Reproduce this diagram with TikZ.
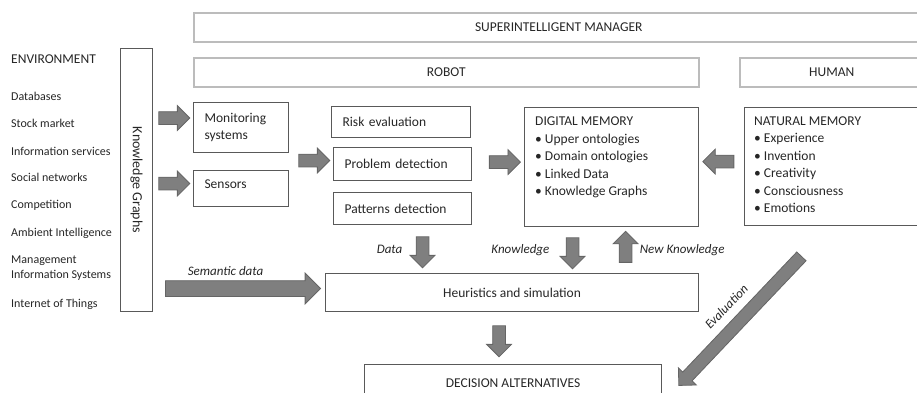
\documentclass[tikz,border=0pt]{standalone}
\usepackage{fontspec}
\setmainfont{Carlito}
\usetikzlibrary{shapes.arrows}
\usetikzlibrary{calc}
\definecolor{boxline}{HTML}{595959}
\definecolor{topline}{HTML}{BCBCBC}
\definecolor{arrfill}{HTML}{7F7F7F}
\definecolor{arrline}{HTML}{656565}
\definecolor{txt}{HTML}{262626}
\tikzset{   topbox/.style = {rectangle, draw = topline, line width=1.5pt, anchor=north west, inner sep=0pt, font=\fontsize{13.5}{17}\selectfont},
            box/.style = {rectangle, draw = boxline, line width=1.1pt, anchor=north west, inner sep=0pt, font=\fontsize{13.5}{17}\selectfont},
            envtext/.style = {anchor=west, inner sep=0pt, align=left, text height=8.5pt, text depth=2.5pt, font=\fontsize{12}{15}\selectfont},
            blockarr/.style = {single arrow, draw = arrline, fill = arrfill, line width=0.8pt, inner xsep=0pt, inner ysep=6pt, minimum width=0pt, single arrow head extend=6pt, minimum height=31pt, sloped, allow upside down},
            lbl/.style = {inner sep=0pt, font=\fontsize{13}{15}\selectfont\itshape}}

\begin{document}
\begin{tikzpicture}[x=1pt, y=-1pt, every node/.append style={text=txt}]
\path[use as bounding box, clip] (0,0) rectangle (917,392);

% top row
\node[topbox, minimum width=730pt, minimum height=29pt] (mgr) at (193,12) {SUPERINTELLIGENT MANAGER};
\node[topbox, minimum width=505pt, minimum height=29pt] (robot) at (193,57) {ROBOT};
\node[topbox, minimum width=184pt, minimum height=29pt] (human) at (739,57) {HUMAN};

% environment
\node[envtext, font=\fontsize{13.5}{17}\selectfont] (env) at (11,60) {ENVIRONMENT};
\node[envtext] (db) at (11,97) {Databases};
\node[envtext] (stock) at (11,124) {Stock market};
\node[envtext] (info) at (11,152) {Information services};
\node[envtext] (social) at (11,178) {Social networks};
\node[envtext] (comp) at (11,205) {Competition};
\node[envtext] (ambient) at (11,233) {Ambient Intelligence};
\node[envtext, text height=, text depth=] (mis) at (11,268.5) {Management\\Information Systems};
\node[envtext] (iot) at (11,304) {Internet of Things};

\node[box, minimum width=32pt, minimum height=263pt] (kg) at (120,48) {};
\node[rotate=-90, inner sep=0pt, font=\fontsize{14}{17}\selectfont] (kgtext) at (kg.center) {Knowledge Graphs};

% robot side
\node[box, minimum width=95pt, minimum height=50pt, text width=73pt, align=left] (mon) at (193,102) {Monitoring\\systems};
\node[box, minimum width=95pt, minimum height=36pt, text width=73pt, text depth=9pt, align=left] (sens) at (193,170) {Sensors};
\node[box, minimum width=139pt, minimum height=31pt, text width=117pt, align=left] (risk) at (331,106) {Risk evaluation};
\node[box, minimum width=138pt, minimum height=33pt, text width=116pt, align=left] (prob) at (333,147) {Problem detection};
\node[box, minimum width=138pt, minimum height=32pt, text width=116pt, align=left] (pat) at (333,192) {Patterns detection};

\node[box, minimum width=174pt, minimum height=119pt] (dig) at (524,107) {};
\node[anchor=north west, inner sep=0pt, align=left, font=\fontsize{13.5}{17.5}\selectfont] (digtext) at ($(dig.north west)+(11,10)$)
  {DIGITAL MEMORY\\\textbullet\ Upper ontologies\\\textbullet\ Domain ontologies\\\textbullet\ Linked Data\\\textbullet\ Knowledge Graphs};

\node[box, minimum width=179pt, minimum height=118pt] (nat) at (744,107) {};
\node[anchor=north west, inner sep=0pt, align=left, font=\fontsize{13.5}{17.5}\selectfont] (nattext) at ($(nat.north west)+(10,9.5)$)
  {NATURAL MEMORY\\\textbullet\ Experience\\\textbullet\ Invention\\\textbullet\ Creativity\\\textbullet\ Consciousness\\\textbullet\ Emotions};

\node[box, minimum width=373pt, minimum height=38pt] (heur) at (325,273) {Heuristics and simulation};
\node[box, minimum width=297pt, minimum height=37pt] (dec) at (364,364) {DECISION ALTERNATIVES};

% block arrows
\path ($(kg.east |- mon.west)+(0,-9.5)$) -- ($(mon.west)+(0,-9.5)$) node[blockarr, pos=0.45] {};
\path ($(kg.east |- sens.west)+(0,-5)$) -- ($(sens.west)+(0,-5)$) node[blockarr, pos=0.45] {};
\path ($(mon.east |- prob.west)+(0,-3.5)$) -- ($(prob.west)+(0,-3.5)$) node[blockarr, midway] {};
\path ($(prob.east)+(0,-2)$) -- ($(dig.west |- prob.east)+(0,-2)$) node[blockarr, pos=0.57] {};
\path ($(nat.west)+(0,-5)$) -- ($(dig.east |- nat.west)+(0,-5)$) node[blockarr, midway] {};

\path ($(pat.south)+(20,0)$) -- ($(pat.south |- heur.north)+(20,0)$)
  node[blockarr, midway] {} node[lbl, midway, left=20pt] {Data};
\path ($(dig.south)+(-39,0)$) -- ($(dig.south |- heur.north)+(-39,0)$)
  node[blockarr, midway] {} node[lbl, midway, left=23pt] {Knowledge};
\path ($(dig.south |- heur.north)+(14,0)$) -- ($(dig.south)+(14,0)$)
  node[blockarr, midway] {} node[lbl, midway, right=14pt] {New Knowledge};

\path ($(kg.east |- heur.west)+(0,-4)$) -- ($(heur.west)+(0,-4)$)
  node[blockarr, midway, minimum height=155pt, inner ysep=7.5pt, single arrow head extend=7.5pt] {}
  node[lbl, midway, xshift=-13.5pt, yshift=18pt] {Semantic data};
\path ($(heur.south)+(-13,0)$) -- ($(heur.south |- dec.north)+(-13,0)$) node[blockarr, midway] {};

\path ($(nat.south)+(-30.5,28)$) -- ($(dec.east)+(19,0)$)
  node[blockarr, midway, minimum height=178pt] {}
  node[lbl, midway, xshift=-16pt, yshift=12pt, rotate=46] {Evaluation};
\end{tikzpicture}
\end{document}
